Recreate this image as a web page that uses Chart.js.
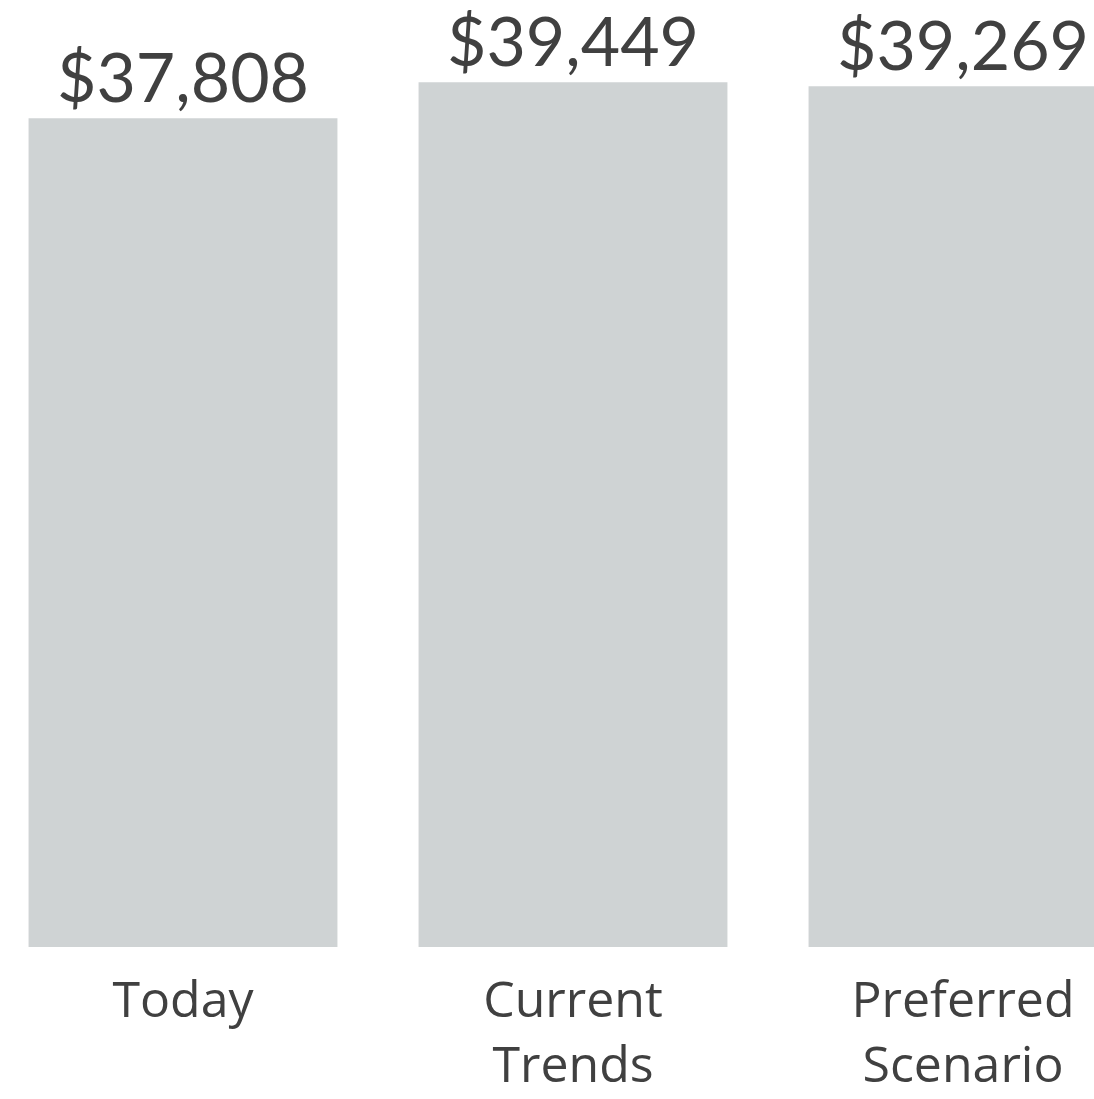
<!DOCTYPE html>
<html>
<head>
<meta charset="utf-8">
<script src="https://cdn.jsdelivr.net/npm/chart.js@4"></script>
<style>
    html, body { margin: 0; padding: 0; background: #fff; overflow: hidden; }
    #wrap { position: absolute; left: -12px; top: 0; width: 1170px; height: 1099px; }
</style>
</head>
<body>
<div id="wrap"><canvas id="incomeChart"></canvas></div>
<script>
'use strict';

var categories = [['Today'], ['Current', 'Trends'], ['Preferred', 'Scenario']];
var incomeValues = [37808, 39449, 39269];
var valueLabels = ['$37,808', '$39,449', '$39,269'];

var textColor = '#404040';

// writes the dollar figure above every bar
var valueLabelPlugin = {
    id: 'valueLabels',
    afterDatasetsDraw: function (chart) {
        var ctx = chart.ctx;
        var meta = chart.getDatasetMeta(0);
        ctx.save();
        ctx.font = '68px Lato';
        ctx.fillStyle = textColor;
        ctx.textAlign = 'center';
        ctx.textBaseline = 'alphabetic';
        meta.data.forEach(function (bar, i) {
            ctx.fillText(valueLabels[i], bar.x, bar.y - 16);
        });
        ctx.restore();
    }
};

var ctx = document.getElementById('incomeChart');
var chart = new Chart(ctx, {
    type: 'bar',
    data: {
        labels: categories,
        datasets: [{
            data: incomeValues,
            backgroundColor: '#cfd3d4',
            borderWidth: 0,
            barPercentage: 0.792,
            categoryPercentage: 1
        }]
    },
    options: {
        responsive: true,
        maintainAspectRatio: false,
        animation: false,
        layout: { padding: 0 },
        plugins: {
            legend: { display: false },
            tooltip: { enabled: false }
        },
        scales: {
            x: {
                grid: { display: false },
                border: { display: false },
                ticks: {
                    color: textColor,
                    font: { family: 'Open Sans', size: 50, lineHeight: 1.3 },
                    padding: 15,
                    maxRotation: 0,
                    autoSkip: false
                },
                afterFit: function (axis) {
                    axis.height = 152;
                }
            },
            y: {
                display: false,
                min: 0,
                max: 43200
            }
        }
    },
    plugins: [valueLabelPlugin]
});
</script>
</body>
</html>
